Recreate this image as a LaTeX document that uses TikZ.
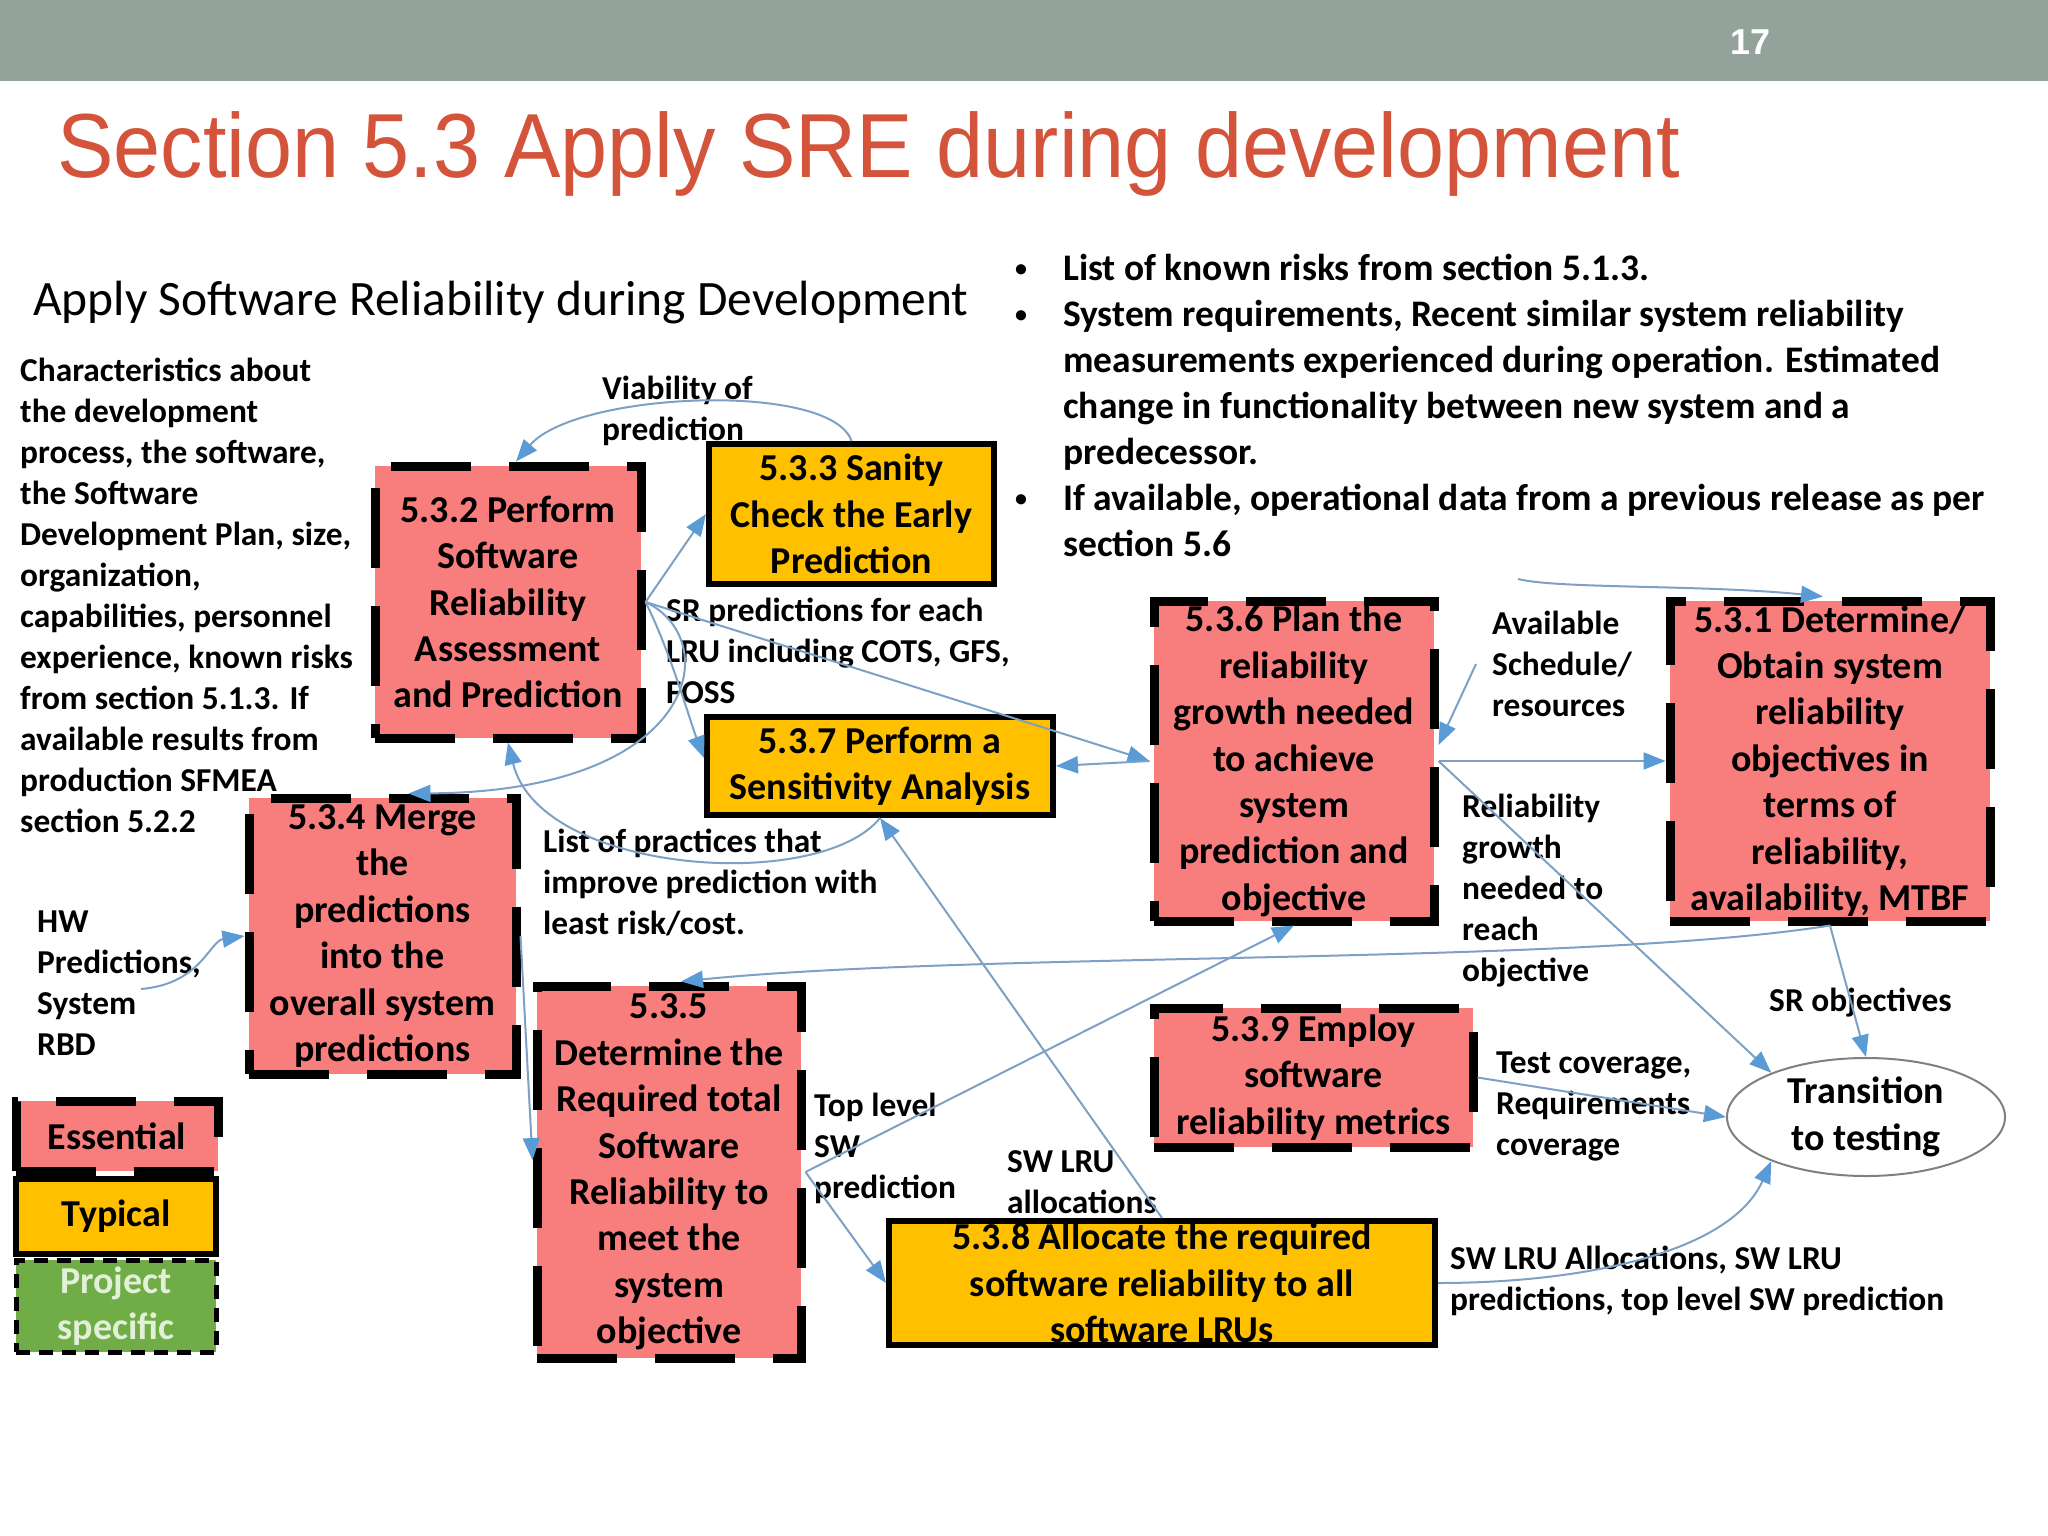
\documentclass[tikz,border=0pt]{standalone}
\usepackage{fontspec}
\usepackage{graphicx}
\setmainfont{Carlito}
\newfontfamily\arialfont{Liberation Sans}
\usetikzlibrary{arrows.meta,calc,shapes.geometric}

\definecolor{barc}{RGB}{147,163,155}
\definecolor{titlec}{RGB}{211,84,58}
\definecolor{pinkc}{RGB}{248,126,126}
\definecolor{yelc}{RGB}{255,192,0}
\definecolor{greenc}{RGB}{112,173,71}
\definecolor{lightg}{RGB}{226,240,217}
\definecolor{linec}{RGB}{125,160,196}
\definecolor{headc}{RGB}{91,155,213}

\newcommand\boxfont{\fontsize{38}{46.4}\selectfont\bfseries}
\newcommand\lblfont{\fontsize{33.4}{41}\selectfont\bfseries}
\newcommand\bulfont{\fontsize{37.5}{46}\selectfont\bfseries}
\newcommand\bul{\makebox[48pt][l]{\raisebox{4pt}{\fontsize{24}{24}\selectfont\textbullet}}}
\newcommand\ind{\hspace*{48pt}}

\begin{document}
\begin{tikzpicture}[x=1pt,y=-1pt,
  ess/.style={draw=black,fill=pinkc,line width=9pt,dash pattern=on 80pt off 38pt,inner sep=0pt,align=center,font=\boxfont},
  typ/.style={draw=black,fill=yelc,line width=6pt,inner sep=0pt,align=center,font=\boxfont},
  prj/.style={draw=black,fill=greenc,line width=5pt,dash pattern=on 14pt off 9pt,inner sep=0pt,align=center,font=\boxfont,text=lightg},
  lbl/.style={anchor=west,align=left,inner sep=0pt,font=\lblfont},
  flow/.style={draw=linec,line width=2pt,-{Triangle[length=22pt,width=17pt,color=headc]}}]
\useasboundingbox (0,0) rectangle (2048,1536);

\fill[barc] (0,0) rectangle (2048,81);
\node[text=white,inner sep=0pt,font=\arialfont\bfseries\fontsize{36}{40}\selectfont] (pgno) at (1750,42) {17};
\node[anchor=base west,inner sep=0pt,text=titlec] (title) at (57,178) {\scalebox{.93}[1]{\arialfont\fontsize{91}{100}\selectfont Section 5.3 Apply SRE during development}};

\node[anchor=west,inner sep=0pt,font=\fontsize{49.5}{58}\selectfont] (head) at (33,303) {Apply Software Reliability during Development};
\node[anchor=west,align=left,inner sep=0pt,font=\bulfont] (inputs) at (1015,405) {\bul List of known risks from section 5.1.3.\\
\bul System requirements, Recent similar system reliability\\
\ind measurements experienced during operation. Estimated\\
\ind change in functionality between new system and a\\
\ind predecessor.\\
\bul If available, operational data from a previous release as per\\
\ind section 5.6};

\node[lbl] (chars) at (20,595) {Characteristics about\\the development\\process, the software,\\the Software\\Development Plan, size,\\organization,\\capabilities, personnel\\experience, known risks\\from section 5.1.3. If\\available results from\\production SFMEA\\section 5.2.2};

\node[ess,minimum width=266pt,minimum height=272pt] (p532) at (508,602) {5.3.2 Perform\\Software\\Reliability\\Assessment\\and Prediction};
\node[typ,minimum width=285pt,minimum height=140pt] (p533) at (851.5,514) {5.3.3 Sanity\\Check the Early\\Prediction};
\node[typ,minimum width=346pt,minimum height=98pt] (p537) at (880,766) {5.3.7 Perform a\\Sensitivity Analysis};
\node[ess,minimum width=267pt,minimum height=276pt] (p534) at (382.5,936) {5.3.4 Merge\\the\\predictions\\into the\\overall system\\predictions};
\node[ess,minimum width=264pt,minimum height=372pt] (p535) at (669,1172) {5.3.5\\Determine the\\Required total\\Software\\Reliability to\\meet the\\system\\objective};
\node[ess,minimum width=280pt,minimum height=320pt] (p536) at (1294,761) {5.3.6 Plan the\\reliability\\growth needed\\to achieve\\system\\prediction and\\objective};
\node[ess,minimum width=320pt,minimum height=320pt] (p531) at (1830,761) {5.3.1 Determine/\\Obtain system\\reliability\\objectives in\\terms of\\reliability,\\availability, MTBF};
\node[ess,minimum width=319pt,minimum height=139pt] (p539) at (1313.5,1077.5) {5.3.9 Employ\\software\\reliability metrics};
\node[typ,minimum width=546pt,minimum height=124pt] (p538) at (1162,1283) {5.3.8 Allocate the required\\software reliability to all\\software LRUs};
\node[ellipse,draw=gray,fill=white,line width=2pt,minimum width=278pt,minimum height=118pt,inner sep=0pt,align=center,font=\boxfont] (tt) at (1866,1117) {Transition\\to testing};

\node[ess,minimum width=202pt,minimum height=70pt] (essl) at (117,1136) {Essential};
\node[typ,minimum width=200pt,minimum height=75pt] (typl) at (116,1216.5) {Typical};
\node[prj,minimum width=200pt,minimum height=92pt] (prjl) at (116,1306) {Project\\specific};

\node[lbl] (viab) at (602,411) {Viability of\\prediction};
\node[lbl] (srpred) at (666,651) {SR predictions for each\\LRU including COTS, GFS,\\FOSS};
\node[lbl] (avail) at (1492,664) {Available\\Schedule/\\resources};
\node[lbl] (relgr) at (1462,891) {Reliability\\growth\\needed to\\reach\\objective};
\node[lbl] (srobj) at (1769,1003) {SR objectives};
\node[lbl] (pract) at (543,883) {List of practices that\\improve prediction with\\least risk/cost.};
\node[lbl] (hwp) at (37,983) {HW\\Predictions,\\System\\RBD};
\node[lbl] (toplv) at (814,1148) {Top level\\SW\\prediction};
\node[lbl] (swlru) at (1007,1182) {SW LRU\\allocations};
\node[lbl] (testc) at (1496,1106) {Test coverage,\\Requirements\\coverage};
\node[lbl] (swall) at (1450,1281) {SW LRU Allocations, SW LRU\\predictions, top level SW prediction};

\coordinate (sched) at (1476,664);
\coordinate (bull) at (1518,579);
\coordinate (hw) at (141,989);

\draw[flow] (p533.north) .. controls +(-20,-60) and +(60,-70) .. ([xshift=8pt]p532.north);
\draw[flow] (p532.east) -- (p533.west);
\draw[flow] (p532.east) -- (p536.west);
\draw[flow] (p532.east) .. controls +(25,50) and +(-15,-40) .. ([yshift=8pt]p537.west);
\draw[flow] (p532.east) .. controls +(79,37) and +(292,-2) .. ([xshift=26pt]p534.north);
\draw[flow] (p536.west) -- (p537.east);
\draw[flow] (p536.east) -- (p531.west);
\draw[flow] (sched) -- ([yshift=16pt]p536.east);
\draw[flow] (p536.east) -- (tt.155);
\draw[flow] (bull) .. controls +(40,10) and +(-120,-12) .. ([xshift=-7pt]p531.north);
\draw[flow] (p531.south) .. controls +(-250,40) and +(300,-30) .. ([xshift=12pt]p535.north);
\draw[flow] (p531.south) -- (tt.north);
\draw[flow] (p539.east) -- (tt.west);
\draw[flow] (p538.east) .. controls +(150,0) and +(-40,90) .. (tt.205);
\draw[flow] (p535.east) -- (p538.west);
\draw[flow] (p535.east) -- (p536.south);
\draw[flow] (p538.north) -- (p537.south);
\draw[flow] (p537.south) .. controls +(-60,75) and +(32,132) .. (p532.south);
\draw[flow] (p534.east) -- ([yshift=12pt]p535.west);
\draw[flow] (hw) .. controls +(60,-5) and +(-35,5) .. (p534.west);

\end{tikzpicture}
\end{document}
